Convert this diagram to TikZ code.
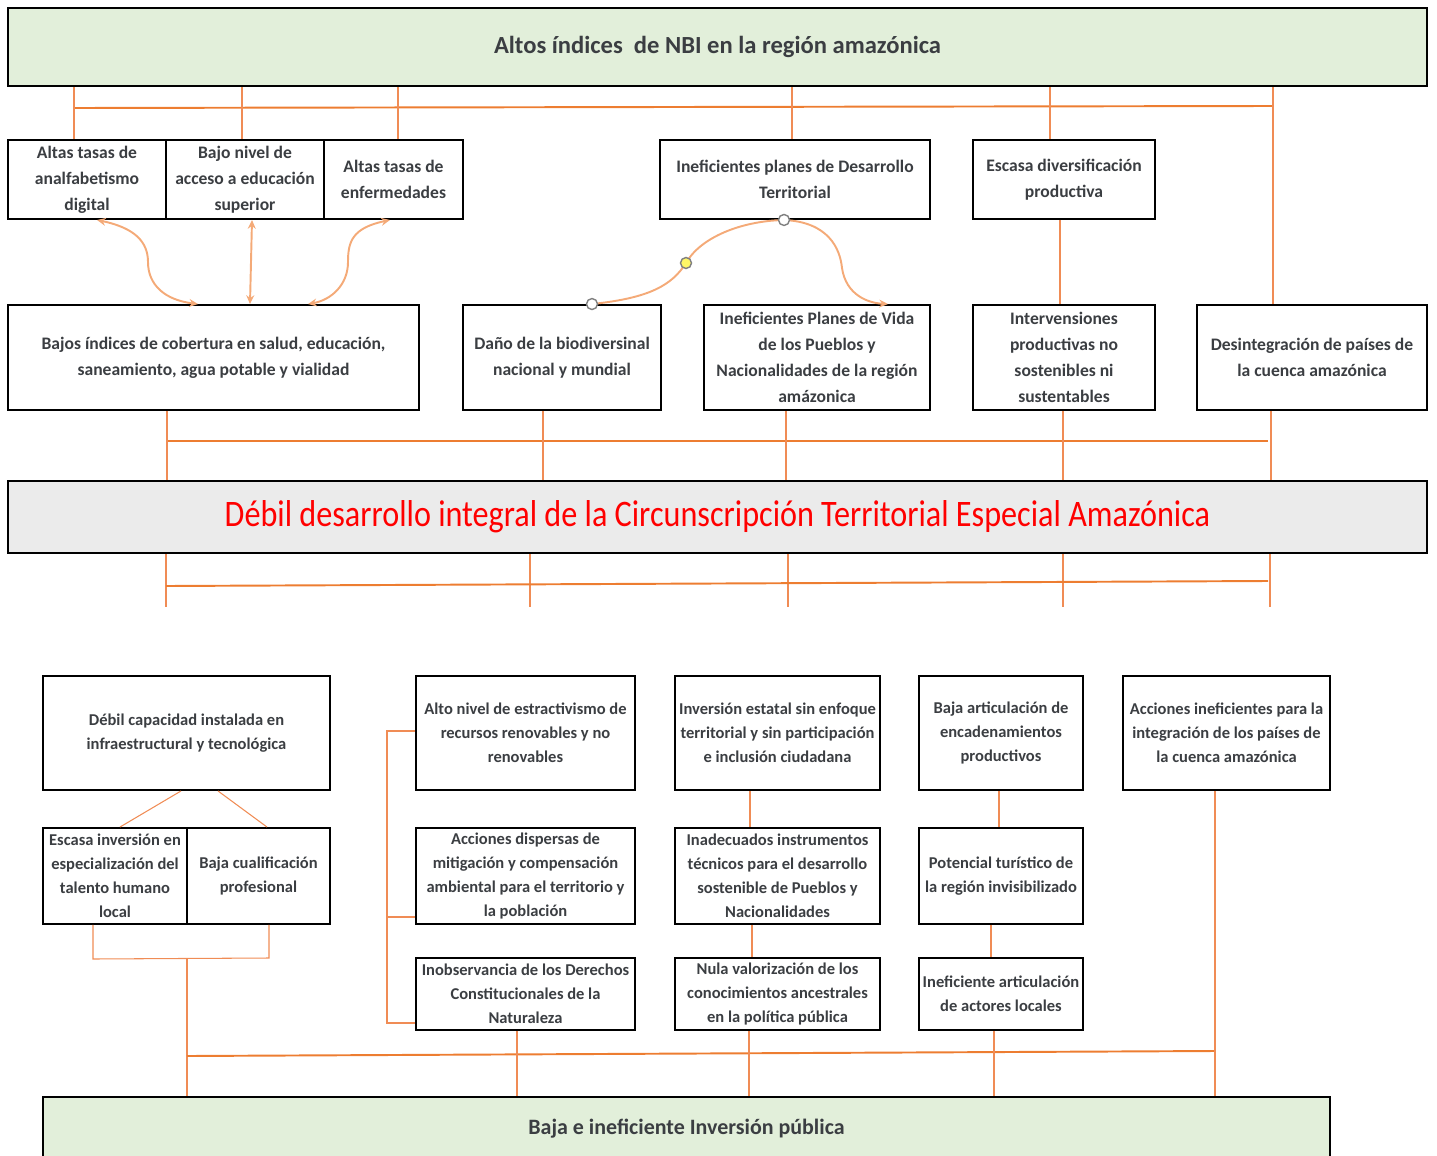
\documentclass[tikz,border=0pt]{standalone}
\usepackage{fontspec}
\setmainfont{Carlito}
\newfontfamily\narrowfont[FakeStretch=0.86]{Carlito}
\usepackage{tikz}
\usetikzlibrary{arrows.meta}
\definecolor{leafgreen}{RGB}{226,239,218}
\definecolor{mistgray}{RGB}{235,235,235}
\definecolor{inkgray}{RGB}{59,62,66}
\definecolor{linkorange}{RGB}{240,140,85}
\definecolor{busorange}{RGB}{237,125,49}
\definecolor{curveorange}{RGB}{244,170,120}

\begin{document}
\begin{tikzpicture}[x=0.02cm,y=-0.02cm,>={Stealth[length=5pt,width=4.5pt]},
  cbox/.style={rectangle,draw=black,line width=1.1pt,fill=white,text=inkgray,
    font=\bfseries\fontsize{10}{14.7}\selectfont,align=center,inner sep=1pt},
  lbox/.style={cbox,font=\bfseries\fontsize{9.4}{13.6}\selectfont},
  hbox/.style={rectangle,draw=black,line width=1.6pt,align=center,inner sep=0pt},
  wh/.style 2 args={minimum width=#1*0.02cm,minimum height=#2*0.02cm},
  link/.style={linkorange,line width=0.6pt},
  bus/.style={busorange,line width=1.1pt},
  carr/.style={curveorange,line width=1.1pt},
  knob/.style={circle,draw=gray,line width=0.8pt,fill=white,inner sep=0pt,minimum size=0.22cm}
]
\useasboundingbox (0,0) rectangle (1437,1156);
\clip (0,0) rectangle (1437,1156);

\node[hbox,fill=leafgreen,wh={1419}{78},text=inkgray,font=\bfseries\fontsize{14}{17}\selectfont] (t0) at (717.5,47) {Altos índices\ \ de NBI en la región amazónica};

\node[cbox,wh={158}{79}] (a1) at (87,179.5) {Altas tasas de\\analfabetismo\\digital};
\node[cbox,wh={158}{79}] (a2) at (245,179.5) {Bajo nivel de\\acceso a educación\\superior};
\node[cbox,wh={139}{79}] (a3) at (393.5,179.5) {Altas tasas de\\enfermedades};
\node[cbox,wh={270}{79}] (b) at (795,179.5) {Ineficientes planes de Desarrollo\\Territorial};
\node[cbox,wh={182}{79}] (c) at (1064,179.5) {Escasa diversificación\\productiva};

\node[cbox,wh={411}{105}] (d) at (213.5,357.5) {Bajos índices de cobertura en salud, educación,\\saneamiento, agua potable y vialidad};
\node[cbox,wh={198}{105}] (e) at (562,357.5) {Daño de la biodiversinal\\nacional y mundial};
\node[cbox,wh={226}{105}] (f) at (817,357.5) {Ineficientes Planes de Vida\\de los Pueblos y\\Nacionalidades de la región\\amázonica};
\node[cbox,wh={182}{105}] (g) at (1064,357.5) {Intervensiones\\productivas no\\sostenibles ni\\sustentables};
\node[cbox,wh={230}{105}] (h) at (1312,357.5) {Desintegración de países de\\la cuenca amazónica};

\node[hbox,fill=mistgray,wh={1419}{72},text={rgb,255:red,255;green,0;blue,0},font=\narrowfont\fontsize{21.3}{24}\selectfont] (m0) at (717.5,517) {Débil desarrollo integral de la Circunscripción Territorial Especial Amazónica};

\node[lbox,wh={287}{114}] (i) at (186.5,733) {Débil capacidad instalada en\\infraestructural y tecnológica};
\node[lbox,wh={144}{96}] (j1) at (115,876) {Escasa inversión en\\especialización del\\talento humano\\local};
\node[lbox,wh={143}{96}] (j2) at (258.5,876) {Baja cualificación\\profesional};
\node[lbox,wh={219}{114}] (k1) at (525.5,733) {Alto nivel de estractivismo de\\recursos renovables y no\\renovables};
\node[lbox,wh={219}{96}] (k2) at (525.5,876) {Acciones dispersas de\\mitigación y compensación\\ambiental para el territorio y\\la población};
\node[lbox,wh={219}{72}] (k3) at (525.5,994) {Inobservancia de los Derechos\\Constitucionales de la\\Naturaleza};
\node[lbox,wh={205}{114}] (l1) at (777.5,733) {Inversión estatal sin enfoque\\territorial y sin participación\\e inclusión ciudadana};
\node[lbox,wh={205}{96}] (l2) at (777.5,876) {Inadecuados instrumentos\\técnicos para el desarrollo\\sostenible de Pueblos y\\Nacionalidades};
\node[lbox,wh={205}{72}] (l3) at (777.5,994) {Nula valorización de los\\conocimientos ancestrales\\en la política pública};
\node[lbox,wh={164}{114}] (m1) at (1001,733) {Baja articulación de\\encadenamientos\\productivos};
\node[lbox,wh={164}{96}] (m2) at (1001,876) {Potencial turístico de\\la región invisibilizado};
\node[lbox,wh={164}{72}] (m3) at (1001,994) {Ineficiente articulación\\de actores locales};
\node[lbox,wh={207}{114}] (n) at (1226.5,733) {Acciones ineficientes para la\\integración de los países de\\la cuenca amazónica};

\node[hbox,fill=leafgreen,wh={1287}{63},text=inkgray,font=\bfseries\fontsize{12.5}{15}\selectfont] (z) at (686.5,1128.5) {Baja e ineficiente Inversión pública};

\coordinate (tl) at (74,108);
\coordinate (tr) at (1273,106);
\draw[bus] (tl) -- (tr);
\draw[link] (t0.south -| 74,0) -- (a1.north -| 74,0);
\draw[link] (t0.south -| 242,0) -- (a2.north -| 242,0);
\draw[link] (t0.south -| 398,0) -- (a3.north -| 398,0);
\draw[link] (t0.south -| 792,0) -- (b.north -| 792,0);
\draw[link] (t0.south -| 1050,0) -- (c.north -| 1050,0);
\draw[link] (t0.south -| 1273,0) -- (h.north -| 1273,0);
\draw[link] (c.south -| 1060,0) -- (g.north -| 1060,0);

\draw[carr,<->] (a1.south -| 97,0) .. controls (135,228) and (148,242) .. (148,262) .. controls (148,285) and (165,300) .. (d.north -| 198,0);
\draw[carr,<->] (a2.south -| 252,0) -- (d.north -| 250,0);
\draw[carr,<->] (a3.south -| 390,0) .. controls (352,228) and (348,242) .. (348,262) .. controls (348,285) and (331,300) .. (d.north -| 308,0);
\draw[carr] (e.north -| 592,0) .. controls (650,298) and (672,285) .. (686,263) .. controls (700,238) and (740,221) .. (b.south -| 784,0);
\draw[carr,->] (b.south -| 784,0) .. controls (828,222) and (840,248) .. (842,268) .. controls (846,295) and (868,303) .. (f.north -| 888,0);
\node[knob] (o1) at (e.north -| 592,0) {};
\node[knob,fill=yellow!60] (o2) at (686,263) {};
\node[knob] (o3) at (b.south -| 784,0) {};

\coordinate (ml) at (167,441);
\coordinate (mr) at (1268,441);
\draw[bus] (ml) -- (mr);
\draw[link] (d.south -| 167,0) -- (m0.north -| 167,0);
\draw[link] (e.south -| 543,0) -- (m0.north -| 543,0);
\draw[link] (f.south -| 786,0) -- (m0.north -| 786,0);
\draw[link] (g.south -| 1063,0) -- (m0.north -| 1063,0);
\draw[link] (h.south -| 1271,0) -- (m0.north -| 1271,0);

\coordinate (q1) at (166,607);
\coordinate (q2) at (530,607);
\coordinate (q3) at (788,607);
\coordinate (q4) at (1063,607);
\coordinate (q5) at (1270,607);
\draw[link] (m0.south -| q1) -- (q1);
\draw[link] (m0.south -| q2) -- (q2);
\draw[link] (m0.south -| q3) -- (q3);
\draw[link] (m0.south -| q4) -- (q4);
\draw[link] (m0.south -| q5) -- (q5);
\coordinate (bl) at (166,586);
\coordinate (br) at (1268,581);
\draw[bus] (bl) -- (br);

\draw[link] (i.south -| 181,0) -- (j1.north -| 120,0);
\draw[link] (i.south -| 218,0) -- (j2.north -| 267,0);
\coordinate (jl) at (93,959);
\coordinate (jr) at (269,958);
\coordinate (jm) at (187,959);
\draw[link] (j1.south -| jl) -- (jl) -- (jr) -- (j2.south -| jr);
\draw[link] (jm) -- (z.north -| jm);
\coordinate (zl) at (187,1056);
\coordinate (zr) at (1215,1051);
\draw[bus] (zl) -- (zr);

\coordinate (kt) at (387,731);
\coordinate (kb) at (387,1023);
\coordinate (km) at (387,917);
\draw[link] (k1.west |- kt) -- (kt) -- (kb) -- (k3.west |- kb);
\draw[link] (km) -- (k2.west |- km);
\draw[link] (k3.south -| 517,0) -- (z.north -| 517,0);
\draw[link] (l1.south -| 750,0) -- (l2.north -| 750,0);
\draw[link] (l2.south -| 752,0) -- (l3.north -| 752,0);
\draw[link] (l3.south -| 749,0) -- (z.north -| 749,0);
\draw[link] (m1.south -| 999,0) -- (m2.north -| 999,0);
\draw[link] (m2.south -| 991,0) -- (m3.north -| 991,0);
\draw[link] (m3.south -| 994,0) -- (z.north -| 994,0);
\draw[link] (n.south -| 1215,0) -- (z.north -| 1215,0);
\end{tikzpicture}
\end{document}
